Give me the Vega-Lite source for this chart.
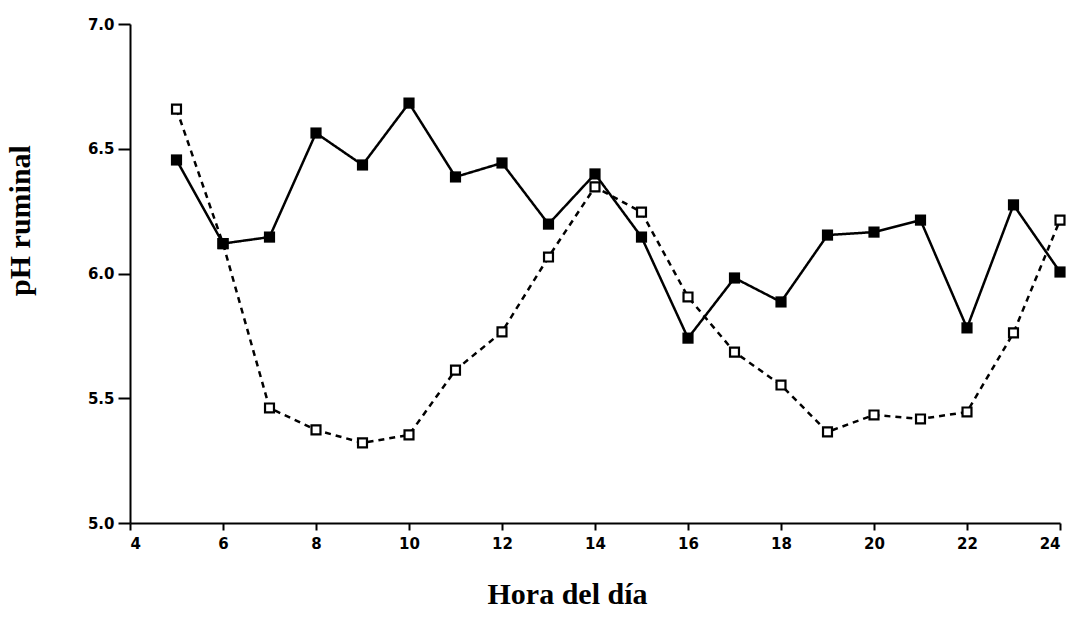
{
  "$schema": "https://vega.github.io/schema/vega-lite/v6.json",
  "width": 930,
  "height": 499,
  "autosize": {"type": "none"},
  "padding": {"left": 130, "top": 24, "right": 9, "bottom": 108},
  "background": "white",
  "config": {
    "view": {"stroke": null},
    "axis": {"grid": false}
  },
  "data": {
    "values": [
      {"hora": 5, "serie": "A", "ph": 6.455},
      {"hora": 6, "serie": "A", "ph": 6.12},
      {"hora": 7, "serie": "A", "ph": 6.146},
      {"hora": 8, "serie": "A", "ph": 6.563},
      {"hora": 9, "serie": "A", "ph": 6.435},
      {"hora": 10, "serie": "A", "ph": 6.683},
      {"hora": 11, "serie": "A", "ph": 6.387},
      {"hora": 12, "serie": "A", "ph": 6.443},
      {"hora": 13, "serie": "A", "ph": 6.198},
      {"hora": 14, "serie": "A", "ph": 6.399},
      {"hora": 15, "serie": "A", "ph": 6.146},
      {"hora": 16, "serie": "A", "ph": 5.741},
      {"hora": 17, "serie": "A", "ph": 5.982},
      {"hora": 18, "serie": "A", "ph": 5.886},
      {"hora": 19, "serie": "A", "ph": 6.154},
      {"hora": 20, "serie": "A", "ph": 6.166},
      {"hora": 21, "serie": "A", "ph": 6.214},
      {"hora": 22, "serie": "A", "ph": 5.782},
      {"hora": 23, "serie": "A", "ph": 6.275},
      {"hora": 24, "serie": "A", "ph": 6.006},
      {"hora": 5, "serie": "B", "ph": 6.659},
      {"hora": 6, "serie": "B", "ph": 6.12},
      {"hora": 7, "serie": "B", "ph": 5.461},
      {"hora": 8, "serie": "B", "ph": 5.373},
      {"hora": 9, "serie": "B", "ph": 5.321},
      {"hora": 10, "serie": "B", "ph": 5.353},
      {"hora": 11, "serie": "B", "ph": 5.613},
      {"hora": 12, "serie": "B", "ph": 5.766},
      {"hora": 13, "serie": "B", "ph": 6.066},
      {"hora": 14, "serie": "B", "ph": 6.347},
      {"hora": 15, "serie": "B", "ph": 6.246},
      {"hora": 16, "serie": "B", "ph": 5.906},
      {"hora": 17, "serie": "B", "ph": 5.685},
      {"hora": 18, "serie": "B", "ph": 5.553},
      {"hora": 19, "serie": "B", "ph": 5.365},
      {"hora": 20, "serie": "B", "ph": 5.433},
      {"hora": 21, "serie": "B", "ph": 5.417},
      {"hora": 22, "serie": "B", "ph": 5.445},
      {"hora": 23, "serie": "B", "ph": 5.762},
      {"hora": 24, "serie": "B", "ph": 6.214}
    ]
  },
  "encoding": {
    "x": {
      "field": "hora",
      "type": "quantitative",
      "scale": {"domain": [4, 24], "nice": false, "zero": false},
      "axis": {
        "values": [4, 6, 8, 10, 12, 14, 16, 18, 20, 22, 24],
        "format": "d",
        "domainColor": "black",
        "domainWidth": 2,
        "tickColor": "black",
        "tickWidth": 2,
        "tickSize": 7,
        "labelFont": "DejaVu Sans",
        "labelFontWeight": "bold",
        "labelFontSize": 15,
        "labelColor": "black",
        "labelPadding": 6,
        "labelOverlap": false,
        "title": "Hora del día",
        "titleFont": "Liberation Serif",
        "titleFontSize": 30,
        "titleFontWeight": "bold",
        "titleColor": "black",
        "titleX": 437,
        "titleY": 80,
        "titleAlign": "center",
        "titleBaseline": "alphabetic"
      }
    },
    "y": {
      "field": "ph",
      "type": "quantitative",
      "scale": {"domain": [5, 7], "nice": false, "zero": false},
      "axis": {
        "values": [5, 5.5, 6, 6.5, 7],
        "format": ".1f",
        "domainColor": "black",
        "domainWidth": 2,
        "tickColor": "black",
        "tickWidth": 2,
        "tickSize": 12,
        "labelFont": "DejaVu Sans",
        "labelFontWeight": "bold",
        "labelFontSize": 15,
        "labelColor": "black",
        "labelPadding": 4,
        "title": "pH ruminal",
        "titleFont": "Liberation Serif",
        "titleFontSize": 30,
        "titleFontWeight": "bold",
        "titleColor": "black",
        "titleAngle": -90,
        "titleX": -110,
        "titleY": 196,
        "titleAlign": "center",
        "titleBaseline": "middle"
      }
    }
  },
  "layer": [
    {
      "mark": {"type": "line", "color": "black", "strokeWidth": 2.5},
      "encoding": {
        "detail": {"field": "serie"},
        "strokeDash": {
          "field": "serie",
          "type": "nominal",
          "scale": {"domain": ["A", "B"], "range": [[1, 0], [6, 5]]},
          "legend": null
        }
      }
    },
    {
      "transform": [{"filter": "datum.serie === 'B'"}],
      "mark": {"type": "point", "shape": "square", "size": 80, "filled": false, "fill": "white", "fillOpacity": 1, "stroke": "black", "strokeWidth": 2.2, "opacity": 1}
    },
    {
      "transform": [{"filter": "datum.serie === 'A'"}],
      "mark": {"type": "point", "shape": "square", "size": 125, "filled": true, "color": "black", "opacity": 1}
    }
  ]
}
